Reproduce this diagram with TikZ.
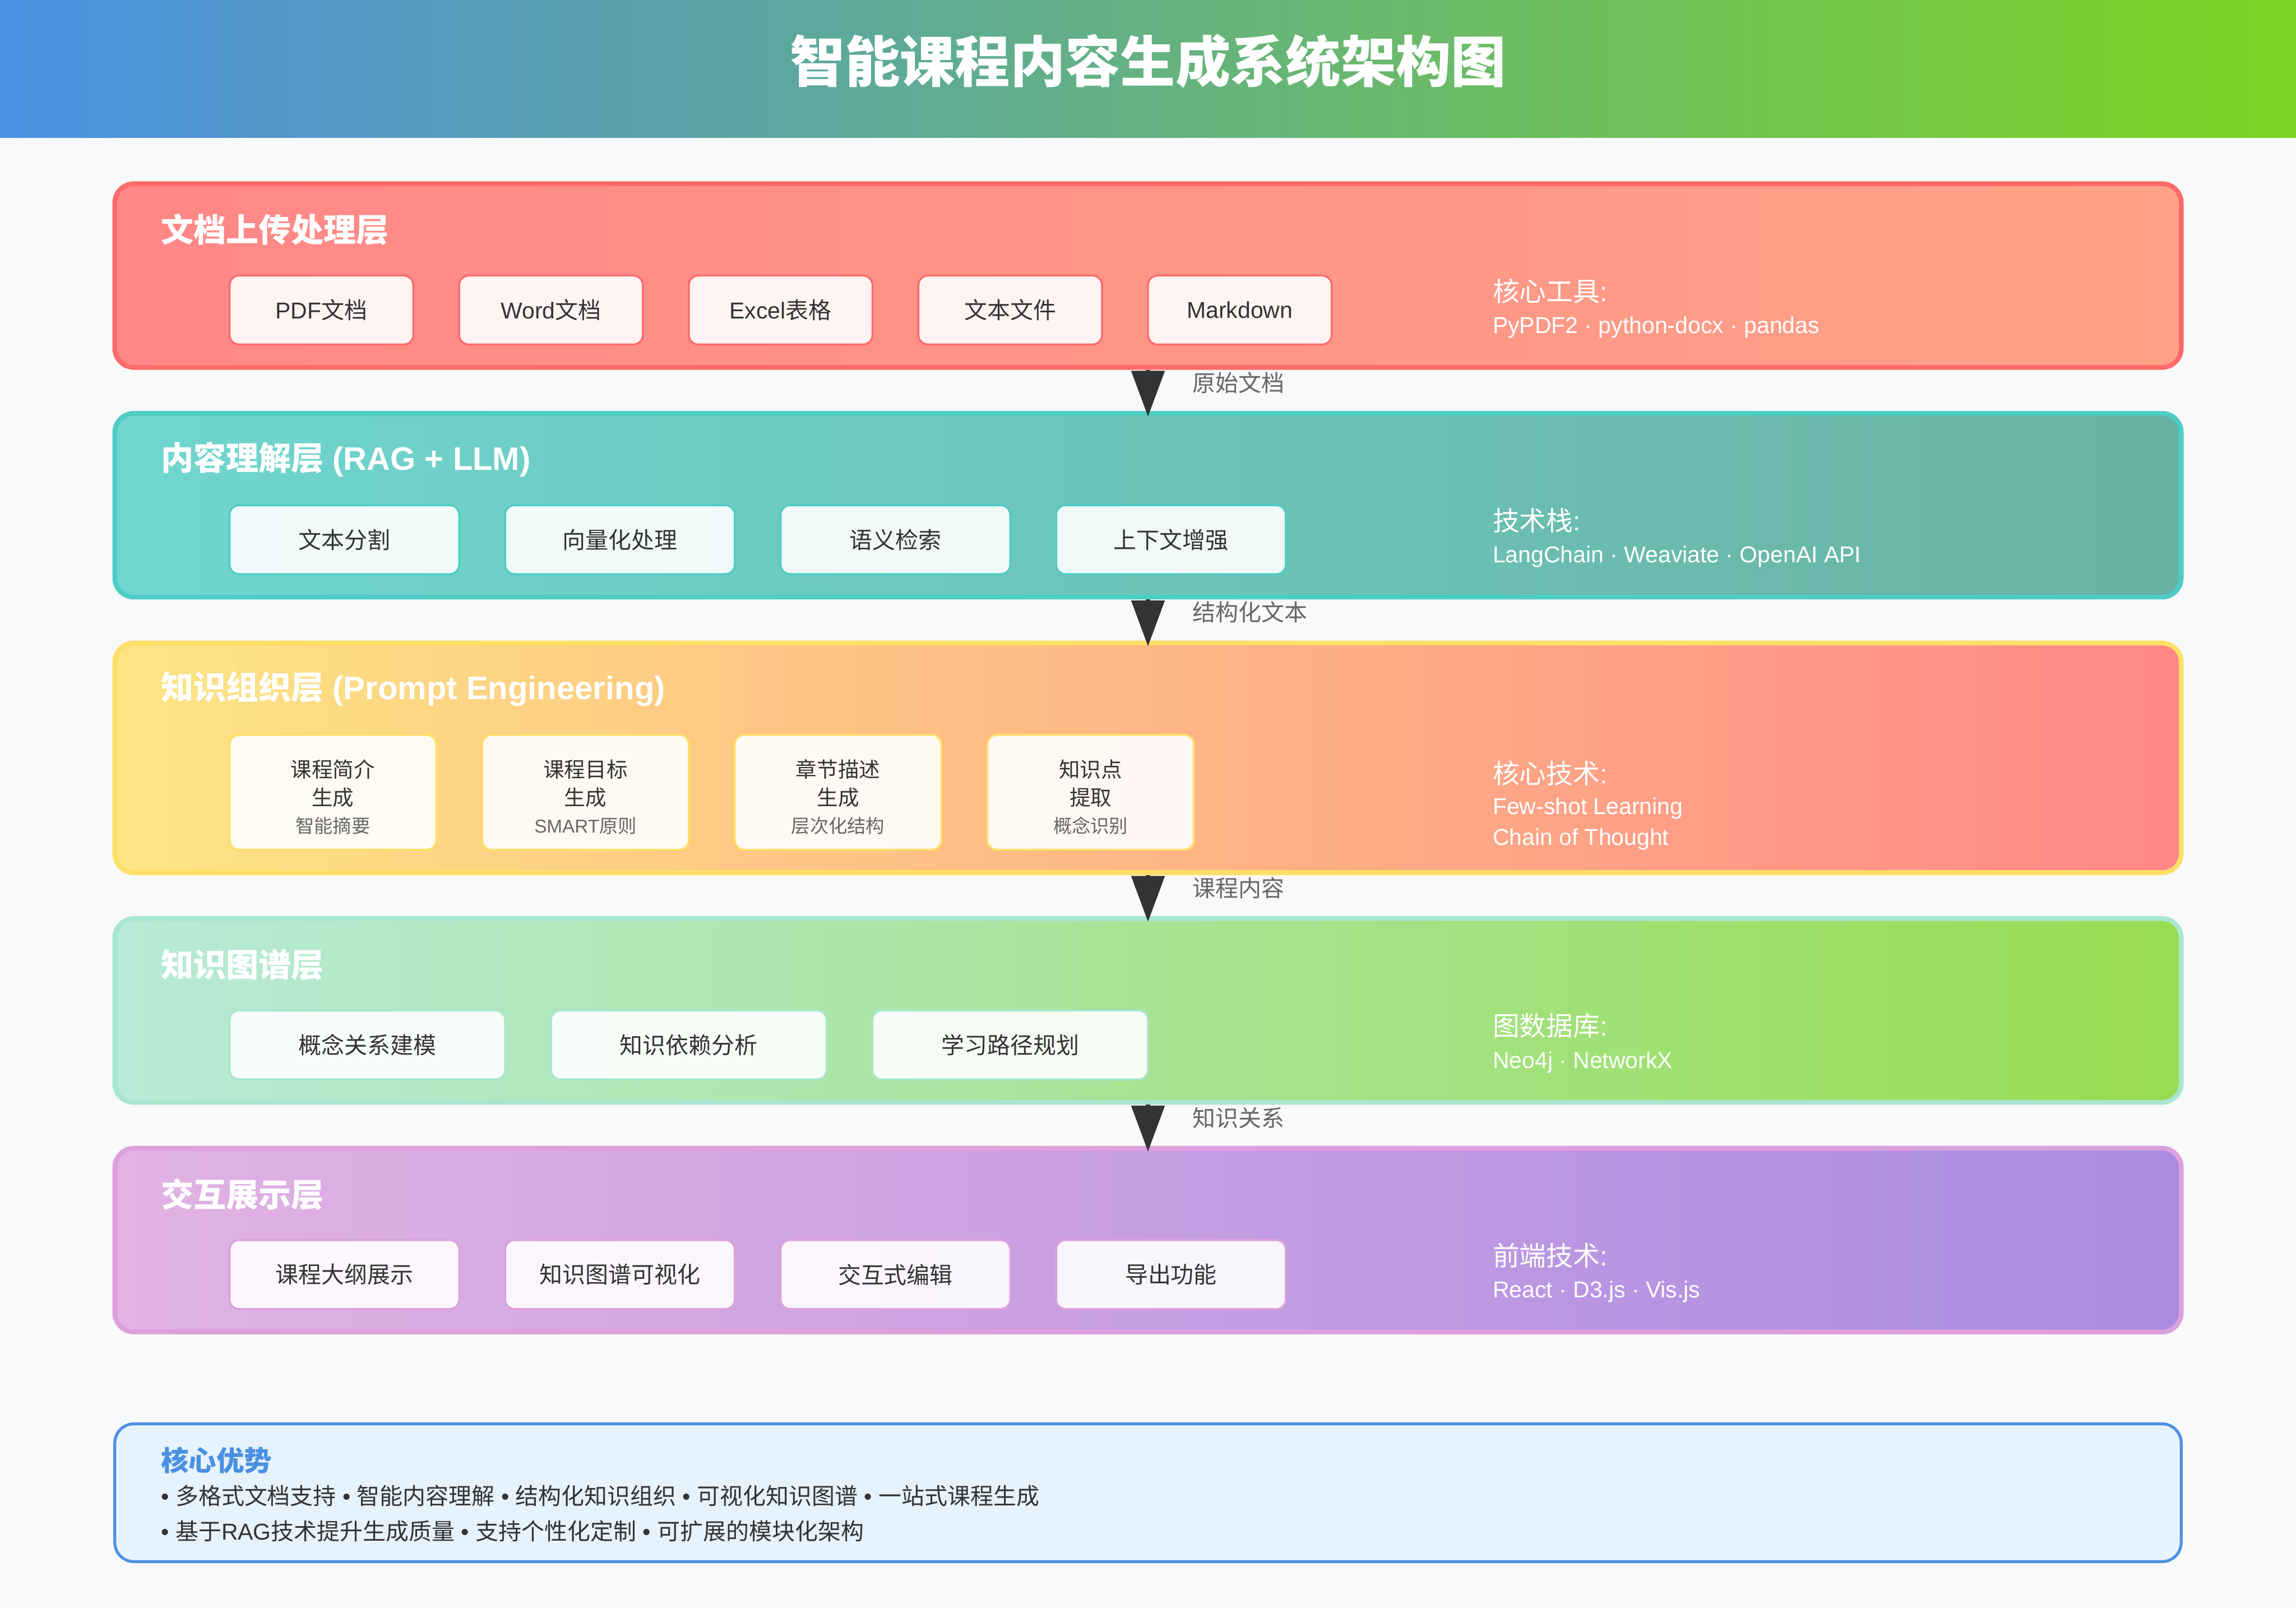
\documentclass[tikz,border=0pt]{standalone}
\usepackage{fontspec}
\setmainfont{Liberation Sans}
\newfontfamily\cjkf{Noto Sans CJK SC}
\newcommand\zh[1]{{\cjkf #1}}
\usetikzlibrary{arrows.meta}
\definecolor{bg}{HTML}{F8F9FA}
\definecolor{tblue}{HTML}{4A90E2}
\definecolor{tgreen}{HTML}{7ED321}
\definecolor{cdark}{HTML}{333333}
\definecolor{cgray}{HTML}{666666}
\definecolor{sa}{HTML}{FF6B6B}\definecolor{fal}{HTML}{FF8787}\definecolor{far}{HTML}{FFA287}
\definecolor{sb}{HTML}{4ECDC4}\definecolor{fbl}{HTML}{70D6CF}\definecolor{fbr}{HTML}{68B2A3}
\definecolor{sc}{HTML}{FFE066}\definecolor{fcl}{HTML}{FDE583}\definecolor{fcr}{HTML}{FF8787}
\definecolor{sd}{HTML}{A8E6CF}\definecolor{fdl}{HTML}{B8EAD8}\definecolor{fdr}{HTML}{98DC50}
\definecolor{se}{HTML}{DDA0DD}\definecolor{fel}{HTML}{E2B2E3}\definecolor{fer}{HTML}{A98BE1}
\definecolor{advfill}{HTML}{E6F2FC}
\begin{document}
\begin{tikzpicture}[x=1pt,y=-1pt,
  layerbox/.style={line width=2.5pt, rounded corners=10pt, minimum width=1080pt, inner sep=0pt},
  itembox/.style={line width=1pt, rounded corners=5pt, fill=white, fill opacity=0.9, text opacity=1,
    minimum height=36pt, inner sep=0pt, text=cdark, font=\fontsize{12}{14}\selectfont},
  tallbox/.style={line width=1pt, rounded corners=5pt, fill=white, fill opacity=0.9, text opacity=1,
    minimum height=60pt, minimum width=108pt, inner sep=0pt},
  talltext/.style={inner sep=0pt, text=cdark, align=center, font=\fontsize{11}{14.5}\selectfont},
  layertitle/.style={anchor=west, inner sep=0pt, text=white, font=\bfseries\fontsize{17}{20}\selectfont},
  infohead/.style={anchor=west, inner sep=0pt, text=white, font=\fontsize{14}{16}\selectfont},
  infoline/.style={anchor=west, inner sep=0pt, text=white, font=\fontsize{12}{14}\selectfont},
  flowlabel/.style={anchor=west, inner sep=0pt, text=cgray, font=\fontsize{12}{14}\selectfont},
  flow/.style={draw=cdark, line width=2.5pt, -{Triangle[length=24pt,width=17pt]}, shorten >=-3pt}
]
\useasboundingbox (0,0) rectangle (1200,840);
\fill[bg] (0,0) rectangle (1200,840);
\shade[left color=tblue, right color=tgreen] (0,0) rectangle (1200,72);
\node[text=white, font=\bfseries\fontsize{28.8}{34}\selectfont] (title) at (600,32) {\zh{智能课程内容生成系统架构图}};

% ---------- Layer 1 ----------
\node[layerbox, draw=sa, left color=fal, right color=far, minimum height=96pt] (L1) at (600,144) {};
\node[layertitle] (L1t) at (84,120) {\zh{文档上传处理层}};
\foreach \i/\t in {0/PDF\zh{文档},1/Word\zh{文档},2/Excel\zh{表格},3/\zh{文本文件},4/Markdown}{
  \node[itembox, draw=sa, minimum width=96pt] (a\i) at (168+120*\i,162) {\t};
}
\node[infohead] (L1h) at (780,152) {\zh{核心工具}:};
\node[infoline] (L1i) at (780,171) {PyPDF2 · python-docx · pandas};

% ---------- Layer 2 ----------
\node[layerbox, draw=sb, left color=fbl, right color=fbr, minimum height=96pt] (L2) at (600,264) {};
\node[layertitle] (L2t) at (84,240) {\zh{内容理解层} (RAG + LLM)};
\foreach \i/\t in {0/文本分割,1/向量化处理,2/语义检索,3/上下文增强}{
  \node[itembox, draw=sb, minimum width=120pt] (b\i) at (180+144*\i,282) {\zh{\t}};
}
\node[infohead] (L2h) at (780,272) {\zh{技术栈}:};
\node[infoline] (L2i) at (780,291) {LangChain · Weaviate · OpenAI API};

% ---------- Layer 3 ----------
\node[layerbox, draw=sc, left color=fcl, right color=fcr, minimum height=120pt] (L3) at (600,396) {};
\node[layertitle] (L3t) at (84,360) {\zh{知识组织层} (Prompt Engineering)};
\foreach \i/\ta/\tb/\tc in {0/课程简介/生成/\zh{智能摘要},1/课程目标/生成/SMART\zh{原则},2/章节描述/生成/\zh{层次化结构},3/知识点/提取/\zh{概念识别}}{
  \node[tallbox, draw=sc] (c\i) at (174+132*\i,414) {};
  \node[talltext] (ct\i) at ([yshift=-2.5pt]c\i.center) {\zh{\ta}\\\zh{\tb}\\{\color{cgray}\fontsize{9.75}{14.5}\selectfont \tc}};
}
\node[infohead] (L3h) at (780,404) {\zh{核心技术}:};
\node[infoline] (L3i) at (780,422.5) {Few-shot Learning};
\node[infoline] (L3j) at (780,438.5) {Chain of Thought};

% ---------- Layer 4 ----------
\node[layerbox, draw=sd, left color=fdl, right color=fdr, minimum height=96pt] (L4) at (600,528) {};
\node[layertitle] (L4t) at (84,504) {\zh{知识图谱层}};
\foreach \i/\t in {0/概念关系建模,1/知识依赖分析,2/学习路径规划}{
  \node[itembox, draw=sd, minimum width=144pt] (d\i) at (192+168*\i,546) {\zh{\t}};
}
\node[infohead] (L4h) at (780,536) {\zh{图数据库}:};
\node[infoline] (L4i) at (780,555) {Neo4j · NetworkX};

% ---------- Layer 5 ----------
\node[layerbox, draw=se, left color=fel, right color=fer, minimum height=96pt] (L5) at (600,648) {};
\node[layertitle] (L5t) at (84,624) {\zh{交互展示层}};
\foreach \i/\t in {0/课程大纲展示,1/知识图谱可视化,2/交互式编辑,3/导出功能}{
  \node[itembox, draw=se, minimum width=120pt] (e\i) at (180+144*\i,666) {\zh{\t}};
}
\node[infohead] (L5h) at (780,656) {\zh{前端技术}:};
\node[infoline] (L5i) at (780,675) {React · D3.js · Vis.js};

% ---------- Flow arrows ----------
\draw[flow] (L1.south) -- (L2.north);
\draw[flow] (L2.south) -- (L3.north);
\draw[flow] (L3.south) -- (L4.north);
\draw[flow] (L4.south) -- (L5.north);
\node[flowlabel] (f1) at (623,200) {\zh{原始文档}};
\node[flowlabel] (f2) at (623,320) {\zh{结构化文本}};
\node[flowlabel] (f3) at (623,464) {\zh{课程内容}};
\node[flowlabel] (f4) at (623,584) {\zh{知识关系}};

% ---------- Advantages ----------
\node[draw=tblue, fill=advfill, line width=1.5pt, rounded corners=10pt, minimum width=1080pt, minimum height=72pt, inner sep=0pt] (adv) at (600,780) {};
\node[anchor=west, inner sep=0pt, text=tblue, font=\bfseries\fontsize{14.5}{17}\selectfont] (advt) at (84,763) {\zh{核心优势}};
\node[anchor=west, inner sep=0pt, text=cdark, font=\fontsize{12}{14}\selectfont] (adv1) at (84,781.5) {• \zh{多格式文档支持} • \zh{智能内容理解} • \zh{结构化知识组织} • \zh{可视化知识图谱} • \zh{一站式课程生成}};
\node[anchor=west, inner sep=0pt, text=cdark, font=\fontsize{12}{14}\selectfont] (adv2) at (84,800) {• \zh{基于}RAG\zh{技术提升生成质量} • \zh{支持个性化定制} • \zh{可扩展的模块化架构}};
\end{tikzpicture}
\end{document}
